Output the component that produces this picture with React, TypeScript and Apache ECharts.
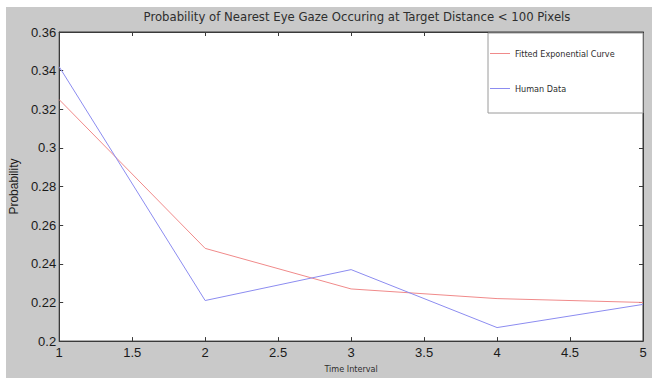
import React, { useEffect, useRef } from "react";
import * as echarts from "echarts";

const timeIntervals = [1, 2, 3, 4, 5];
const fittedValues = [0.325, 0.248, 0.227, 0.222, 0.22];
const humanValues = [0.342, 0.221, 0.237, 0.207, 0.219];
const seriesNames = ["Fitted Exponential Curve", "Human Data"];
const titleText = "Probability of Nearest Eye Gaze Occuring at Target Distance < 100 Pixels";

const condensed = "'DejaVu Sans Condensed', 'Liberation Sans Narrow', sans-serif";
const arial = "'Liberation Sans', Arial, sans-serif";

export default function App() {
  const ref = useRef<HTMLDivElement>(null);
  useEffect(() => {
    if (!ref.current) return;
    const chart = echarts.init(ref.current, undefined, { renderer: "svg" });
    const axisLine = { show: true, lineStyle: { color: "#3a3a3a", width: 1 } };
    const tick = { show: true, inside: true, length: 4, lineStyle: { color: "#3a3a3a" } };
    chart.setOption({
      animation: false,
      backgroundColor: "#ffffff",
      graphic: [
        {
          type: "rect",
          z: -10,
          silent: true,
          shape: { x: 6, y: 7, width: 646, height: 371 },
          style: { fill: "#c9c9c9" },
        },
        {
          type: "rect",
          z: 10,
          silent: true,
          shape: { x: 488, y: 33, width: 155, height: 80 },
          style: { fill: "#ffffff", stroke: "#9a9a9a", lineWidth: 1 },
        },
      ],
      title: {
        text: titleText,
        left: 352,
        textAlign: "center",
        top: 5,
        textStyle: { fontFamily: condensed, fontSize: 13, fontWeight: "normal", color: "#2e2e2e" },
      },
      legend: {
        orient: "vertical",
        left: 490,
        top: 49,
        z: 20,
        padding: 0,
        itemGap: 26,
        itemWidth: 20,
        itemHeight: 1,
        icon: "rect",
        textStyle: { fontFamily: condensed, fontSize: 9, color: "#2e2e2e" },
        data: seriesNames,
      },
      grid: {
        left: 57,
        top: 32,
        right: 9,
        bottom: 31,
        show: true,
        backgroundColor: "#ffffff",
        borderColor: "#3a3a3a",
        borderWidth: 1,
      },
      xAxis: [
        {
          type: "value",
          min: 1,
          max: 5,
          interval: 0.5,
          axisLine,
          axisTick: tick,
          splitLine: { show: false },
          axisLabel: { fontFamily: arial, fontSize: 13, color: "#1a1a1a", margin: 5 },
          name: "Time Interval",
          nameLocation: "middle",
          nameGap: 18,
          nameTextStyle: { fontFamily: condensed, fontSize: 9, color: "#2e2e2e" },
        },
        {
          type: "value",
          position: "top",
          min: 1,
          max: 5,
          interval: 0.5,
          axisLine,
          axisTick: tick,
          splitLine: { show: false },
          axisLabel: { show: false },
        },
      ],
      yAxis: [
        {
          type: "value",
          min: 0.2,
          max: 0.36,
          interval: 0.02,
          axisLine,
          axisTick: tick,
          splitLine: { show: false },
          axisLabel: { fontFamily: arial, fontSize: 13, color: "#1a1a1a", margin: 3 },
          name: "Probability",
          nameLocation: "middle",
          nameGap: 27,
          nameTextStyle: { fontFamily: arial, fontSize: 12, color: "#1a1a1a" },
        },
        {
          type: "value",
          position: "right",
          min: 0.2,
          max: 0.36,
          interval: 0.02,
          axisLine,
          axisTick: tick,
          splitLine: { show: false },
          axisLabel: { show: false },
        },
      ],
      series: [
        {
          name: seriesNames[0],
          type: "line",
          symbol: "none",
          data: timeIntervals.map((t, i) => [t, fittedValues[i]]),
          lineStyle: { color: "#f08a8a", width: 1 },
          itemStyle: { color: "#f08a8a" },
        },
        {
          name: seriesNames[1],
          type: "line",
          symbol: "none",
          data: timeIntervals.map((t, i) => [t, humanValues[i]]),
          lineStyle: { color: "#8c8cf0", width: 1 },
          itemStyle: { color: "#8c8cf0" },
        },
      ],
    });
    return () => chart.dispose();
  }, []);
  return (
    <div
      ref={ref}
      style={{ position: "fixed", left: 0, top: 0, width: 652, height: 378 }}
    />
  );
}
